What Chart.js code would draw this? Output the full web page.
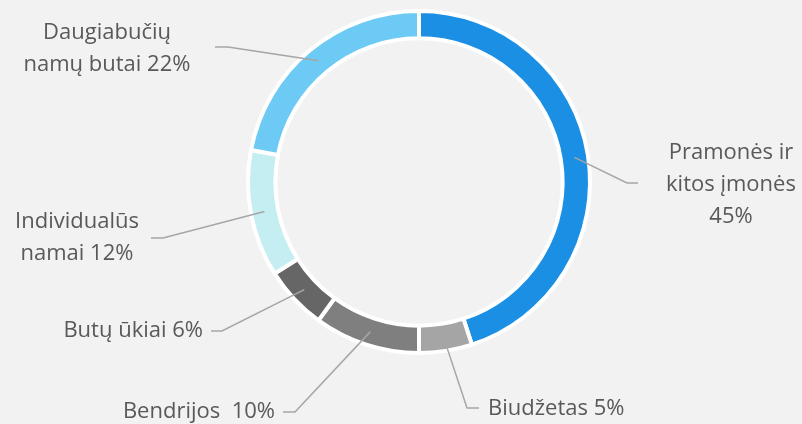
<!DOCTYPE html>
<html>
<head>
<meta charset="utf-8">
<script src="https://cdn.jsdelivr.net/npm/chart.js@4.4.1/dist/chart.umd.min.js"></script>
<style>
    html, body { margin: 0; padding: 0; background: #f2f2f2; }
    #wrap { width: 802px; height: 424px; }
</style>
</head>
<body>
<div id="wrap"><canvas id="chart" width="802" height="424"></canvas></div>
<script>
const categories = [
    ['Pramonės ir', 'kitos įmonės', '45%'],
    ['Biudžetas 5%'],
    ['Bendrijos  10%'],
    ['Butų ūkiai 6%'],
    ['Individualūs', 'namai 12%'],
    ['Daugiabučių', 'namų butai 22%']
];
const shares = [45, 5, 10, 6, 12, 22];
const sliceColors = ['#1a8fe3', '#a5a5a5', '#7f7f7f', '#666666', '#c5eef2', '#6ccaf5'];

// where each label sits: elbow of the leader, end of the leader, text anchor
const labelLayout = [
    { elbow: [627, 183], end: [638, 183], text: [731, 153], align: 'center' },
    { elbow: [467, 408], end: [479, 408], text: [488, 409], align: 'left' },
    { elbow: [295, 412], end: [283, 412], text: [275, 412], align: 'right' },
    { elbow: [222, 331], end: [211, 331], text: [203, 331], align: 'right' },
    { elbow: [163, 238], end: [151, 238], text: [77, 222], align: 'center' },
    { elbow: [228, 47], end: [215, 47], text: [107, 33], align: 'center' }
];

const calloutPlugin = {
    id: 'callouts',
    afterDatasetsDraw(chart) {
        const ctx = chart.ctx;
        const arcs = chart.getDatasetMeta(0).data;
        ctx.save();
        arcs.forEach((arc, i) => {
            const p = arc.getProps(['x', 'y', 'startAngle', 'endAngle', 'innerRadius', 'outerRadius'], true);
            const mid = (p.startAngle + p.endAngle) / 2;
            const r = (p.innerRadius + p.outerRadius) / 2;
            const sx = p.x + Math.cos(mid) * r;
            const sy = p.y + Math.sin(mid) * r;
            const lay = labelLayout[i];
            ctx.strokeStyle = '#a6a6a6';
            ctx.lineWidth = 1.5;
            ctx.beginPath();
            ctx.moveTo(sx, sy);
            ctx.lineTo(lay.elbow[0], lay.elbow[1]);
            ctx.lineTo(lay.end[0], lay.end[1]);
            ctx.stroke();

            ctx.fillStyle = '#595959';
            ctx.font = '22px "Open Sans"';
            ctx.textAlign = lay.align;
            ctx.textBaseline = 'middle';
            categories[i].forEach((line, k) => {
                ctx.fillText(line, lay.text[0], lay.text[1] + k * 32);
            });
        });
        ctx.restore();
    }
};

new Chart(document.getElementById('chart'), {
    type: 'doughnut',
    data: {
        labels: categories.map(c => c.join(' ')),
        datasets: [{
            data: shares,
            backgroundColor: sliceColors,
            borderColor: '#ffffff',
            borderWidth: 4
        }]
    },
    options: {
        responsive: false,
        animation: false,
        cutout: '84%',
        layout: { padding: { left: 246, right: 210, top: 9, bottom: 69 } },
        plugins: {
            legend: { display: false },
            tooltip: { enabled: false }
        }
    },
    plugins: [calloutPlugin]
});
</script>
</body>
</html>
